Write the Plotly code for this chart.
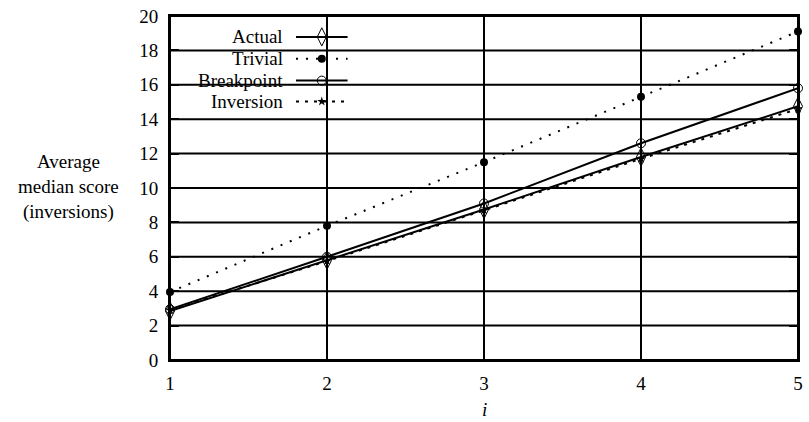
import plotly.graph_objects as go

x_vals = [1, 2, 3, 4, 5]
actual = [2.85, 5.8, 8.75, 11.8, 14.75]
trivial = [3.95, 7.8, 11.5, 15.3, 19.1]
breakpoint = [2.95, 6.0, 9.1, 12.6, 15.8]
inversion = [2.9, 5.75, 8.7, 11.7, 14.6]
x_ticks = [1, 2, 3, 4, 5]
y_ticks = [0, 2, 4, 6, 8, 10, 12, 14, 16, 18, 20]
legend_names = ["Actual", "Trivial", "Breakpoint", "Inversion"]

FONT = "Liberation Serif"
FS = 19
W, H = 809, 422
L, R, T, B = 170, 6, 14, 62


def px(x):
    return (x - L) / (W - L - R)


def py(y):
    return (H - B - y) / (H - B - T)


fig = go.Figure()

# gridlines as shapes (so the legend box can hide them)
for yt in y_ticks:
    fig.add_shape(type="line", xref="x", yref="y", x0=x_ticks[0], x1=x_ticks[-1], y0=yt, y1=yt,
                  line=dict(color="black", width=2), layer="below")
for xt in x_ticks:
    fig.add_shape(type="line", xref="x", yref="y", x0=xt, x1=xt, y0=y_ticks[0], y1=y_ticks[-1],
                  line=dict(color="black", width=2), layer="below")
# white legend background
fig.add_shape(type="rect", xref="paper", yref="paper", x0=px(180), x1=px(361), y0=py(110), y1=py(22),
              fillcolor="white", line=dict(width=0), layer="below")

# data traces
fig.add_trace(go.Scatter(x=x_vals, y=actual, mode="lines+markers",
                         line=dict(color="black", width=2),
                         marker=dict(symbol="diamond-tall-open", size=13, color="black", line=dict(width=1)),
                         cliponaxis=False, showlegend=False))
fig.add_trace(go.Scatter(x=x_vals, y=trivial, mode="lines+markers",
                         line=dict(color="black", width=2, dash="2px,8px"),
                         marker=dict(symbol="circle", size=8, color="black"),
                         cliponaxis=False, showlegend=False))
fig.add_trace(go.Scatter(x=x_vals, y=breakpoint, mode="lines+markers",
                         line=dict(color="black", width=2),
                         marker=dict(symbol="circle-open", size=9, color="black", line=dict(width=1)),
                         cliponaxis=False, showlegend=False))
fig.add_trace(go.Scatter(x=x_vals, y=inversion, mode="lines+markers",
                         line=dict(color="black", width=2, dash="3px,6px"),
                         marker=dict(symbol="star", size=7, color="black"),
                         cliponaxis=False, showlegend=False))

# manual legend (pixel overlay axes)
rows = [35, 57, 79, 100]
styles = [
    (dict(color="black", width=2), dict(symbol="diamond-tall-open", size=13, color="black", line=dict(width=1))),
    (dict(color="black", width=2, dash="2px,8px"), dict(symbol="circle", size=8, color="black")),
    (dict(color="black", width=2), dict(symbol="circle-open", size=9, color="black", line=dict(width=1))),
    (dict(color="black", width=2, dash="3px,6px"), dict(symbol="star", size=7, color="black")),
]
for name, ry, (ln, mk) in zip(legend_names, rows, styles):
    fig.add_trace(go.Scatter(x=[297, 349], y=[ry, ry], mode="lines", line=ln,
                             xaxis="x2", yaxis="y2", showlegend=False, hoverinfo="skip"))
    fig.add_trace(go.Scatter(x=[323], y=[ry], mode="markers", marker=mk,
                             xaxis="x2", yaxis="y2", showlegend=False, hoverinfo="skip"))
    fig.add_annotation(x=px(286), y=py(ry), xref="paper", yref="paper", text=name, showarrow=False,
                       xanchor="right", yanchor="middle", font=dict(family=FONT, size=FS, color="black"))

# y axis title
for txt, ty in [("Average", 160), ("median score", 185), ("(inversions)", 211)]:
    fig.add_annotation(x=px(68), y=py(ty), xref="paper", yref="paper", text=txt, showarrow=False,
                       xanchor="center", yanchor="middle", font=dict(family=FONT, size=FS, color="black"))
fig.add_annotation(x=px(487), y=py(410), xref="paper", yref="paper", text="<i>i</i>", showarrow=False,
                   xanchor="center", yanchor="middle", font=dict(family=FONT, size=FS, color="black"))

axis_common = dict(showline=True, linecolor="black", linewidth=2, mirror="ticks",
                   showgrid=False, zeroline=False,
                   ticks="inside", ticklen=9, tickwidth=2, tickcolor="black",
                   tickfont=dict(family=FONT, size=FS, color="black"))

fig.update_layout(
    width=W, height=H,
    margin=dict(l=L, r=R, t=T, b=B),
    plot_bgcolor="white", paper_bgcolor="white",
    xaxis=dict(range=[1, 5], tickvals=x_ticks, ticklabelstandoff=5, **axis_common),
    yaxis=dict(range=[0, 20], tickvals=y_ticks, ticklabelstandoff=6, **axis_common),
    xaxis2=dict(range=[L, W - R], overlaying="x", visible=False, fixedrange=True),
    yaxis2=dict(range=[H - B, T], overlaying="y", visible=False, fixedrange=True),
    showlegend=False,
)

fig.write_html("out.html")
